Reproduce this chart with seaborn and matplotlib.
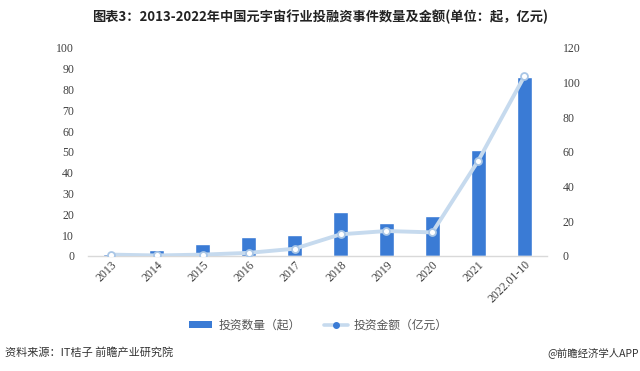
import matplotlib
matplotlib.use("Agg")
import matplotlib.pyplot as plt
import seaborn as sns
import pandas as pd
from matplotlib.lines import Line2D
from matplotlib.patches import Patch

years = ["2013", "2014", "2015", "2016", "2017", "2018", "2019", "2020", "2021", "2022.01-10"]
deal_count = [1, 3, 6, 9, 10, 21, 16, 19, 51, 86]
deal_amount = [0.8, 0.3, 0.8, 1.8, 4.2, 12.5, 14.4, 13.6, 55, 103.5]
left_ticks = list(range(0, 101, 10))
right_ticks = list(range(0, 121, 20))

title = "图表3：2013-2022年中国元宇宙行业投融资事件数量及金额(单位：起，亿元)"
legend_labels = ["投资数量（起）", "投资金额（亿元）"]
source = "资料来源：IT桔子 前瞻产业研究院"

sns.set_theme(style="white")
plt.rcParams["font.family"] = ["Noto Sans CJK SC", "DejaVu Sans"]

bar_color = "#3A7BD5"
line_color = "#C6DAEE"
serif = ["Liberation Serif", "DejaVu Serif"]

df = pd.DataFrame({"year": years, "count": deal_count, "amount": deal_amount})

fig = plt.figure(figsize=(6.4, 3.71), dpi=100)
ax = fig.add_axes([0.1375, 0.31, 0.7175, 0.561])
sns.barplot(data=df, x="year", y="count", color=bar_color, width=0.33,
            saturation=1, ax=ax)
ax.set_ylim(0, 100)
ax.set_yticks(left_ticks)
ax.set_xlim(-0.5, len(years) - 0.5)

ax2 = ax.twinx()
sns.lineplot(data=df, x="year", y="amount", ax=ax2, color=line_color, lw=2.8,
             marker="o", markersize=5, markerfacecolor="white",
             markeredgecolor="#A9C6E6", markeredgewidth=1.3, sort=False)
ax2.set_ylim(0, 120)
ax2.set_yticks(right_ticks)

for a in (ax, ax2):
    a.set_xlabel("")
    a.set_ylabel("")
    for s in a.spines.values():
        s.set_visible(False)
    a.grid(False)
ax.spines["bottom"].set_visible(True)
ax.spines["bottom"].set_color("#D9D9D9")
ax.spines["bottom"].set_linewidth(1)

ax.tick_params(axis="y", length=0, pad=10, labelsize=8.5, labelcolor="#404040")
ax2.tick_params(axis="y", length=0, pad=11, labelsize=8.5, labelcolor="#404040")
ax.tick_params(axis="x", length=0, pad=2, labelsize=8.5, labelcolor="#404040")
for lab in ax.get_yticklabels() + ax2.get_yticklabels():
    lab.set_family(serif)
ax.set_xticks(range(len(years)))
ax.set_xticklabels(years, rotation=45, ha="right", rotation_mode="anchor",
                   family=serif)

fig.text(0.5, 0.955, title, ha="center", va="center", fontsize=9.5,
         fontweight="bold", color="#222222")

handles = [Patch(facecolor=bar_color, edgecolor="none"),
           Line2D([0], [0], color=line_color, lw=2.6, marker="o", markersize=4,
                  markerfacecolor="#3A7BD5", markeredgecolor="#3A7BD5")]
fig.legend(handles, legend_labels, loc="center", bbox_to_anchor=(0.497, 0.124),
           ncol=2, frameon=False, fontsize=8.5, handlelength=2.0,
           handleheight=0.5, handletextpad=0.5, columnspacing=2.0,
           labelcolor="#555555")

fig.text(0.008, 0.05, source, ha="left", va="center", fontsize=8, color="#333333")
fig.text(0.998, 0.05, "@前瞻经济学人APP", ha="right", va="center", fontsize=7.5,
         color="#333333")

fig.savefig("out.png", dpi=100)
